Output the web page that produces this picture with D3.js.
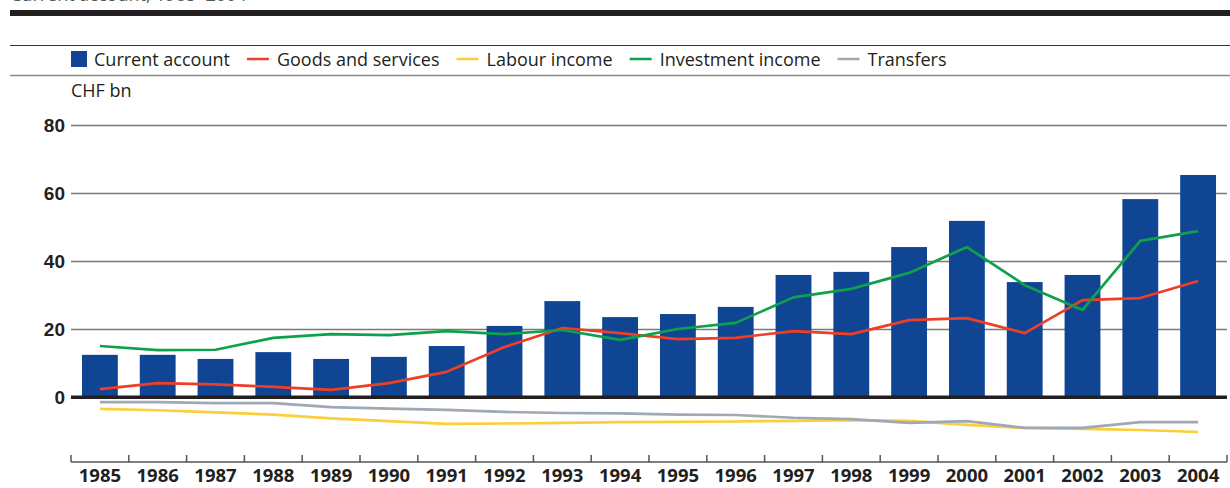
<!DOCTYPE html>
<html>
<head>
<meta charset="utf-8">
<script src="https://cdn.jsdelivr.net/npm/d3@7"></script>
<style>
  body { margin: 0; background: #fff; }
  svg { display: block; font-family: "Open Sans", sans-serif; }
  .legend text { font-size: 18px; fill: #231f20; }
  .unit { font-size: 18px; fill: #231f20; }
  .yaxis text, .xaxis text { font-weight: bold; fill: #231f20; }
</style>
</head>
<body>
<div id="chart"></div>
<script>
// Chart values (CHF bn)
var years = ["1985", "1986", "1987", "1988", "1989", "1990", "1991", "1992", "1993", "1994",
             "1995", "1996", "1997", "1998", "1999", "2000", "2001", "2002", "2003", "2004"];

var currentAccount = [12.4, 12.4, 11.2, 13.2, 11.2, 11.8, 15.0, 20.9, 28.2, 23.5,
                      24.4, 26.5, 35.9, 36.8, 44.1, 51.8, 33.8, 35.9, 58.2, 65.3];
var goodsServices = [2.3, 4.1, 3.7, 3.0, 2.1, 4.1, 7.4, 14.7, 20.3, 18.8,
                     17.0, 17.4, 19.4, 18.5, 22.6, 23.2, 18.8, 28.5, 29.1, 34.1];
var labourIncome = [-3.5, -3.9, -4.5, -5.2, -6.3, -7.1, -7.9, -7.8, -7.6, -7.4,
                    -7.3, -7.2, -7.0, -6.8, -7.0, -8.2, -9.1, -9.4, -9.7, -10.3];
var investmentIncome = [15.0, 13.8, 13.9, 17.4, 18.5, 18.2, 19.4, 18.5, 19.7, 16.8,
                        20.0, 21.8, 29.3, 31.8, 36.5, 44.1, 32.9, 25.6, 45.9, 48.8];
var transfers = [-1.5, -1.5, -1.8, -1.8, -3.0, -3.4, -3.8, -4.4, -4.7, -4.8,
                 -5.2, -5.3, -6.1, -6.5, -7.6, -7.1, -9.1, -9.1, -7.4, -7.4];

var yTicks = [0, 20, 40, 60, 80];

var lineSeries = [
  { name: "Goods and services", values: goodsServices, color: "#ee3f26" },
  { name: "Labour income", values: labourIncome, color: "#fdcd3a" },
  { name: "Investment income", values: investmentIncome, color: "#0ea14b" },
  { name: "Transfers", values: transfers, color: "#9ea9b4" }
];
var barColor = "#104594";

// SVG area
var svgWidth = 1230;
var svgHeight = 488;

var margin = { top: 125, right: 3, bottom: 26, left: 71 };
var chartWidth = svgWidth - margin.left - margin.right;
var axisY = 462 - margin.top;   // bottom axis line inside chart group

var svg = d3.select("#chart")
  .append("svg")
  .attr("width", svgWidth)
  .attr("height", svgHeight);

// header rules and title (cut at the top edge, as in the source page)
svg.append("text")
  .attr("x", 10)
  .attr("y", 1)
  .attr("font-size", 18)
  .attr("fill", "#555")
  .text("Current account, 1985–2004");

svg.append("rect")
  .attr("x", 10).attr("y", 10)
  .attr("width", svgWidth - 10).attr("height", 6)
  .attr("fill", "#231f20");

svg.append("line")
  .attr("x1", 10).attr("x2", svgWidth)
  .attr("y1", 45.5).attr("y2", 45.5)
  .attr("stroke", "#333").attr("stroke-width", 1);

svg.append("line")
  .attr("x1", 10).attr("x2", svgWidth)
  .attr("y1", 75.5).attr("y2", 75.5)
  .attr("stroke", "#888").attr("stroke-width", 1.5);

// legend
var legend = svg.append("g")
  .attr("class", "legend")
  .attr("transform", "translate(71, 59)");

var legendX = 0;
var barItem = legend.append("g").attr("transform", "translate(" + legendX + ",0)");
barItem.append("rect")
  .attr("x", 0).attr("y", -8)
  .attr("width", 16).attr("height", 16)
  .attr("fill", barColor);
var barText = barItem.append("text")
  .attr("x", 23).attr("y", 6.5)
  .text("Current account");
legendX += 23 + barText.node().getComputedTextLength() + 17;

lineSeries.forEach(function(s) {
  var item = legend.append("g").attr("transform", "translate(" + legendX + ",0)");
  item.append("line")
    .attr("x1", 0).attr("x2", 22)
    .attr("y1", 0).attr("y2", 0)
    .attr("stroke", s.color).attr("stroke-width", 2.5);
  var t = item.append("text")
    .attr("x", 30).attr("y", 6.5)
    .text(s.name);
  legendX += 30 + t.node().getComputedTextLength() + 17;
});

svg.append("text")
  .attr("class", "unit")
  .attr("x", 71)
  .attr("y", 97)
  .text("CHF bn");

// chart group
var chartGroup = svg.append("g")
  .attr("transform", "translate(" + margin.left + "," + margin.top + ")");

var xBandScale = d3.scaleBand()
  .domain(years)
  .range([0, 1156])
  .paddingInner(0.38)
  .paddingOuter(0.19);

var yLinearScale = d3.scaleLinear()
  .domain([0, 80])
  .range([272, 0]);

// gridlines
var leftAxis = d3.axisLeft(yLinearScale)
  .tickValues(yTicks)
  .tickSize(-chartWidth)
  .tickPadding(6)
  .tickFormat(d3.format("d"));

var yAxisGroup = chartGroup.append("g")
  .attr("class", "yaxis")
  .call(leftAxis);
yAxisGroup.select(".domain").remove();
yAxisGroup.selectAll(".tick line")
  .attr("stroke", function(d) { return d === 0 ? "#231f20" : "#7a7a7a"; })
  .attr("stroke-width", function(d) { return d === 0 ? 3 : 1.6; });
yAxisGroup.selectAll(".tick text")
  .attr("font-size", 19)
  .attr("dy", "0.36em");

// bars
chartGroup.selectAll(".bar")
  .data(currentAccount)
  .enter()
  .append("rect")
  .attr("class", "bar")
  .attr("x", function(d, i) { return xBandScale(years[i]); })
  .attr("y", function(d) { return yLinearScale(d); })
  .attr("width", xBandScale.bandwidth())
  .attr("height", function(d) { return yLinearScale(0) - yLinearScale(d); })
  .attr("fill", barColor);

// zero line redrawn over the bars
chartGroup.append("line")
  .attr("x1", 0).attr("x2", chartWidth)
  .attr("y1", yLinearScale(0)).attr("y2", yLinearScale(0))
  .attr("stroke", "#231f20").attr("stroke-width", 3);

// lines
var drawLine = d3.line()
  .x(function(d, i) { return xBandScale(years[i]) + xBandScale.bandwidth() / 2; })
  .y(function(d) { return yLinearScale(d); });

lineSeries.forEach(function(s) {
  chartGroup.append("path")
    .attr("d", drawLine(s.values))
    .attr("fill", "none")
    .attr("stroke", s.color)
    .attr("stroke-width", 2.7)
    .attr("stroke-linejoin", "round");
});

// bottom axis: tick marks on the category boundaries
var boundaries = d3.range(years.length + 1).map(function(i) { return i * xBandScale.step(); });
var xAxisGroup = chartGroup.append("g")
  .attr("class", "xaxis")
  .attr("transform", "translate(0," + axisY + ")");

xAxisGroup.append("line")
  .attr("x1", 0).attr("x2", boundaries[boundaries.length - 1])
  .attr("y1", 0).attr("y2", 0)
  .attr("stroke", "#555").attr("stroke-width", 1.5);

xAxisGroup.selectAll(".bound")
  .data(boundaries)
  .enter()
  .append("line")
  .attr("class", "bound")
  .attr("x1", function(d) { return d; }).attr("x2", function(d) { return d; })
  .attr("y1", -7).attr("y2", 0)
  .attr("stroke", "#555").attr("stroke-width", 1.5);

xAxisGroup.selectAll(".year")
  .data(years)
  .enter()
  .append("text")
  .attr("class", "year")
  .attr("x", function(d) { return xBandScale(d) + xBandScale.bandwidth() / 2; })
  .attr("y", 20)
  .attr("text-anchor", "middle")
  .attr("font-size", 18.5)
  .text(function(d) { return d; });
</script>
</body>
</html>
